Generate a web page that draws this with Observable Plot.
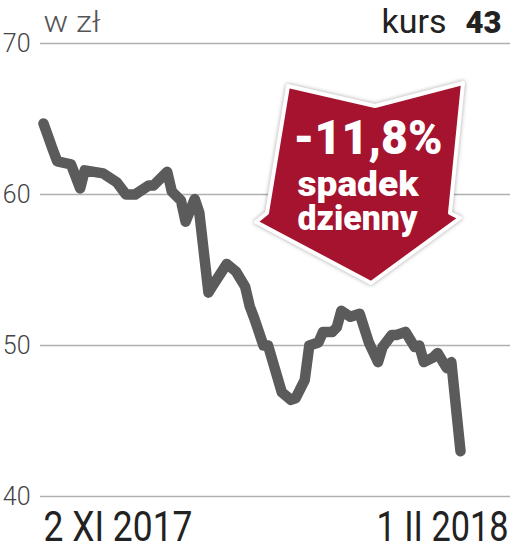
<!DOCTYPE html>
<html><head><meta charset="utf-8">
<script src="https://cdn.jsdelivr.net/npm/d3@7"></script>
<script src="https://cdn.jsdelivr.net/npm/@observablehq/plot@0.6"></script>
<style>
html,body{margin:0;padding:0;background:#fff;}
#chart{width:514px;height:549px;overflow:hidden;}
</style></head><body><div id="chart"></div>
<script>
const dates = ["2017-11-02","2017-11-04","2017-11-05","2017-11-08","2017-11-10","2017-11-11","2017-11-15","2017-11-17","2017-11-18","2017-11-20","2017-11-22","2017-11-25","2017-11-26","2017-11-29","2017-11-30",
"2017-12-02","2017-12-03","2017-12-05","2017-12-06","2017-12-08","2017-12-09","2017-12-12","2017-12-14","2017-12-16","2017-12-17","2017-12-18","2017-12-20","2017-12-21","2017-12-24","2017-12-26","2017-12-27","2017-12-29","2017-12-30",
"2018-01-01","2018-01-02","2018-01-04","2018-01-05","2018-01-06","2018-01-08","2018-01-10","2018-01-12","2018-01-14","2018-01-15","2018-01-17","2018-01-18","2018-01-20","2018-01-22","2018-01-23","2018-01-24","2018-01-26","2018-01-27","2018-01-29","2018-01-30",
"2018-02-01"];
const prices = [64.7,63.0,62.2,62.0,60.4,61.6,61.4,61.0,60.8,60.0,60.0,60.6,60.6,61.5,60.2,
59.6,58.2,59.7,58.8,53.5,54.0,55.4,54.9,53.9,52.6,51.8,50.0,50.0,46.9,46.4,46.5,47.7,50.0,
50.2,50.9,50.9,51.2,52.3,51.9,52.1,50.2,48.9,49.9,50.7,50.7,50.9,49.9,50.0,48.9,49.2,49.5,48.5,48.9,
43.0];
const yTicks = [40, 50, 60, 70];
const xLabels = ["2 XI 2017", "1 II 2018"];
const unitLabel = "w zł";
const kursLabel = "kurs";
const kursValue = "43";
const calloutLines = ["-11,8%", "spadek", "dzienny"];

const data = dates.map((d, i) => ({date: new Date(d), price: prices[i]}));

const arrowShape = [[288,86],[375,106],[463,83],[450,213],[460,218],[371,283],[256,222],[267,213]];
function arrowMark() {
  const ns = "http://www.w3.org/2000/svg";
  const g = document.createElementNS(ns, "g");
  const p = document.createElementNS(ns, "path");
  p.setAttribute("d", "M" + arrowShape.map(q => q.join(",")).join("L") + "Z");
  p.setAttribute("fill", "#a5132e");
  p.setAttribute("stroke", "#fff");
  p.setAttribute("stroke-width", "4");
  p.setAttribute("stroke-linejoin", "round");
  p.setAttribute("style", "filter: drop-shadow(0 0 2px rgba(0,0,0,0.35));");
  g.appendChild(p);
  return g;
}

const chart = Plot.plot({
  width: 514, height: 549,
  marginLeft: 40, marginRight: 4, marginTop: 43, marginBottom: 53,
  style: {fontFamily: "Roboto, sans-serif", background: "#fff", overflow: "visible"},
  x: {type: "utc", domain: [new Date(dates[0]), new Date(dates[dates.length - 1])], range: [43, 460], axis: null},
  y: {domain: [40, 70], axis: null},
  marks: [
    Plot.ruleY(yTicks, {stroke: "#b0b0b0", strokeWidth: 1.5}),
    Plot.axisY({ticks: yTicks, tickSize: 0, tickPadding: 10, fontSize: 25, color: "#444", fontWeight: 300, label: null}),
    Plot.line(data, {x: "date", y: "price", stroke: "#5b5b5b", strokeWidth: 10.5, strokeLinejoin: "round", strokeLinecap: "round"}),
    arrowMark,
    Plot.text([calloutLines[0]], {frameAnchor: "top-left", textAnchor: "start", lineAnchor: "bottom", dx: 253, dy: 110, fontSize: 49, fontWeight: 900, fill: "#fff"}),
    Plot.text([calloutLines[1]], {frameAnchor: "top-left", textAnchor: "start", lineAnchor: "bottom", dx: 257, dy: 152, fontSize: 36, fontWeight: 900, fill: "#fff"}),
    Plot.text([calloutLines[2]], {frameAnchor: "top-left", textAnchor: "start", lineAnchor: "bottom", dx: 257, dy: 186, fontSize: 36, fontWeight: 900, fill: "#fff"}),
    Plot.text([unitLabel], {frameAnchor: "top-left", textAnchor: "start", lineAnchor: "bottom", dx: 3, dy: -12, fontSize: 29, fontWeight: 300, fill: "#555"}),
    Plot.text([kursLabel], {frameAnchor: "top-right", textAnchor: "start", lineAnchor: "bottom", dx: -129, dy: -11, fontSize: 34, fill: "#222"}),
    Plot.text([kursValue], {frameAnchor: "top-right", textAnchor: "start", lineAnchor: "bottom", dx: -45, dy: -11, fontSize: 32, fontWeight: 900, fill: "#222"}),
    Plot.text([xLabels[0]], {frameAnchor: "bottom-left", textAnchor: "start", lineAnchor: "bottom", dx: 3, dy: 44, fontSize: 42, fill: "#222"}),
    Plot.text([xLabels[1]], {frameAnchor: "bottom-right", textAnchor: "start", lineAnchor: "bottom", dx: -134, dy: 44, fontSize: 42, fill: "#222"})
  ]
});

document.getElementById("chart").appendChild(chart);

// horizontally condense texts to the reference widths (scale from their start point)
const widths = {"-11,8%": 149, "spadek": 121, "dzienny": 120, "2 XI 2017": 149, "1 II 2018": 132, "kurs": 65, "43": 36, "w zł": 57};
chart.querySelectorAll("text").forEach(t => {
  const w = widths[t.textContent];
  if (!w) return;
  const natural = t.getComputedTextLength();
  if (!natural) return;
  const sx = w / natural;
  const tr = t.getAttribute("transform") || "";
  t.setAttribute("transform", (tr + " scale(" + sx.toFixed(4) + ",1)").trim());
});
</script></body></html>
